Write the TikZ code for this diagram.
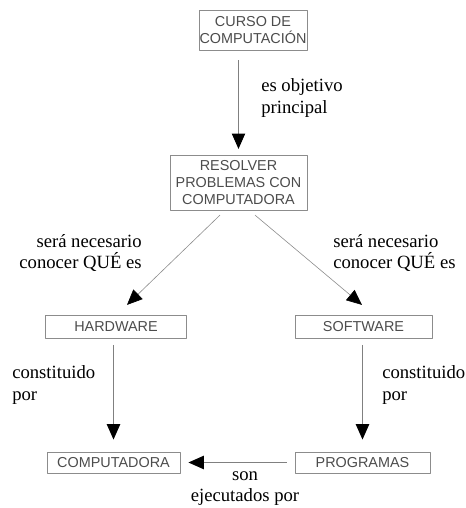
\documentclass[tikz,border=0pt]{standalone}
\usepackage{fontspec}
\setmainfont{Liberation Serif}
\newfontfamily\cajafont{Liberation Sans}
\usetikzlibrary{arrows.meta}
\begin{document}
\begin{tikzpicture}[x=.75pt, y=-.75pt, line join=round,
	caja/.style={draw=black!45, text=black!70, font=\cajafont\fontsize{10.8}{12.5}\selectfont, align=center, inner sep=0pt},
	flecha/.style={draw=black!50, line width=.75pt, -{Triangle[length=11.5pt,width=10pt,color=black]}},
	diag/.style={draw=black!45, line width=.45pt, -{Triangle[length=11.5pt,width=10pt,color=black]}},
	rotulo/.style={font=\fontsize{14}{16}\selectfont, inner sep=0pt}]
	\useasboundingbox (0,0) rectangle (466,508);
	% cajas
	\node[caja, minimum width=81pt, minimum height=30pt] (curso) at (253,30) {CURSO DE\\COMPUTACIÓN};
	\node[caja, minimum width=103pt, minimum height=41pt] (resolver) at (238.5,182.5) {RESOLVER\\PROBLEMAS CON\\COMPUTADORA};
	\node[caja, minimum width=106pt, minimum height=17pt] (hardware) at (116,326.5) {HARDWARE};
	\node[caja, minimum width=103pt, minimum height=17pt] (software) at (363.5,326.5) {SOFTWARE};
	\node[caja, minimum width=100pt, minimum height=16pt] (computadora) at (113.5,462.5) {COMPUTADORA};
	\node[caja, minimum width=101pt, minimum height=16pt] (programas) at (362.5,462.5) {PROGRAMAS};
	% conectores
	\draw[flecha, shorten <=7.5pt, shorten >=4.5pt] (curso.south -| resolver.north) -- (resolver.north);
	\draw[diag] ([shift={(-18.5,5)}]resolver.south) -- ([shift={(11,-10)}]hardware.north);
	\draw[diag] ([shift={(16.5,5)}]resolver.south) -- ([shift={(-1.5,-10)}]software.north);
	\draw[flecha, shorten <=5pt, shorten >=9pt] (computadora.north |- hardware.south) -- (computadora.north);
	\draw[flecha, shorten <=5pt, shorten >=9pt] (programas.north |- software.south) -- (programas.north);
	\draw[flecha, shorten <=6pt, shorten >=6pt] (programas.west) -- (computadora.east);
	% rotulos
	\node[rotulo, anchor=west, align=left] (objetivo) at (261,98) {es objetivo\\principal};
	\node[rotulo, anchor=east, align=right] (necizq) at (142,253) {será necesario\\conocer QUÉ es};
	\node[rotulo, anchor=west, align=left] (necder) at (333,253) {será necesario\\conocer QUÉ es};
	\node[rotulo, anchor=west, align=left] (constizq) at (12,385) {constituido\\por};
	\node[rotulo, anchor=west, align=left] (constder) at (382,385) {constituido\\por};
	\node[rotulo, align=center, anchor=south] (ejecutados) at (245,506) {son\\ejecutados por};
\end{tikzpicture}
\end{document}
